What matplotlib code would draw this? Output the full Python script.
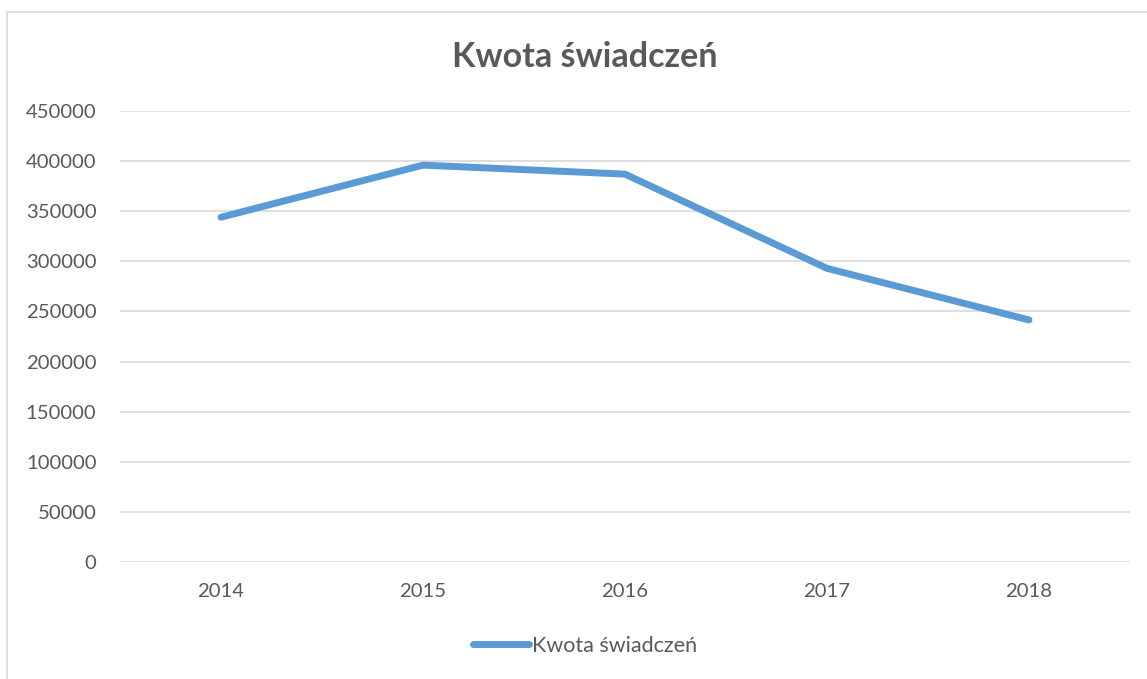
import matplotlib.pyplot as plt
from matplotlib.patches import Rectangle

years = ["2014", "2015", "2016", "2017", "2018"]
kwota = [344000, 396000, 387000, 293000, 241500]

plt.rcParams['font.family'] = ['Lato', 'DejaVu Sans']
text_color = '#595959'
line_color = '#5b9bd5'

fig = plt.figure(figsize=(11.47, 6.79), dpi=100)
ax = fig.add_axes([120 / 1147, 117 / 679, 1010 / 1147, 451 / 679])

# outer chart frame (light grey, cut at right and bottom as in the source)
fig.patches.append(Rectangle((7 / 1147, -0.1), 1.2, (679 - 12) / 679 + 0.1,
                             transform=fig.transFigure, fill=False,
                             edgecolor='#d9d9d9', linewidth=1.2))

x = range(len(years))
ax.plot(x, kwota, color=line_color, linewidth=5, solid_capstyle='round',
        solid_joinstyle='round', label="Kwota świadczeń")

ax.set_xlim(-0.5, len(years) - 0.5)
ax.set_ylim(0, 450000)
ax.set_yticks(range(0, 450001, 50000))
ax.set_xticks(list(x))
ax.set_xticklabels(years)
ax.grid(axis='y', color='#d9d9d9', linewidth=1.2)
ax.set_axisbelow(True)
for s in ax.spines.values():
    s.set_visible(False)
ax.tick_params(axis='both', length=0, labelsize=14.6, labelcolor=text_color)
ax.tick_params(axis='y', pad=17)
ax.tick_params(axis='x', pad=15)

fig.text(585 / 1147, 1 - 57 / 679, "Kwota świadczeń", ha='center', va='center',
         fontsize=24.5, fontweight='bold', color=text_color)

leg = ax.legend(loc='center', bbox_to_anchor=(585 / 1147, 1 - 646 / 679),
                bbox_transform=fig.transFigure, frameon=False, fontsize=15.5,
                handlelength=2.6, handletextpad=0.15)
for t in leg.get_texts():
    t.set_color(text_color)

fig.savefig("out.png", dpi=100)
